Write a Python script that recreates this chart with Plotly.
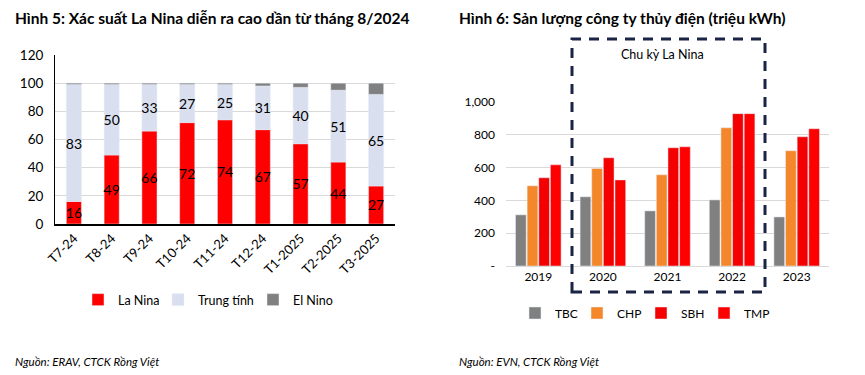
import plotly.graph_objects as go

# ---- Data: Figure 5 ----
months = ["T7-24", "T8-24", "T9-24", "T10-24", "T11-24", "T12-24", "T1-2025", "T2-2025", "T3-2025"]
la_nina = [16, 49, 66, 72, 74, 67, 57, 44, 27]
trung_tinh = [83, 50, 33, 27, 25, 31, 40, 51, 65]
el_nino = [1, 1, 1, 1, 1, 2, 3, 5, 8]
left_ticks = [0, 20, 40, 60, 80, 100, 120]

# ---- Data: Figure 6 ----
years = ["2019", "2020", "2021", "2022", "2023"]
tbc = [312, 422, 336, 403, 299]
chp = [489, 595, 556, 843, 703]
sbh = [538, 660, 721, 929, 788]
tmp = [617, 525, 727, 929, 837]
right_tickvals = [0, 200, 400, 600, 800, 1000]
right_ticktext = ["-", "200", "400", "600", "800", "1,000"]

W, H = 865, 375
def px(x): return x / W
def py(y): return (H - y) / H

F = "Lato"

fig = go.Figure()

left_series = [("La Nina", la_nina, "#FF0000", True),
               ("Trung tính", trung_tinh, "#DADFEF", True),
               ("El Nino", el_nino, "#808080", False)]
left_leg_sq = [98, 178, 273]
for i, (name, vals, col, lab) in enumerate(left_series):
    kw = {}
    if lab:
        kw = dict(text=vals, textposition="inside", insidetextanchor="middle",
                  constraintext="none", textfont=dict(color="black", size=14, family=F))
    fig.add_bar(x=months, y=vals, name=name, marker_color=col, width=0.4,
                xaxis="x", yaxis="y", legend="legend" if i == 0 else f"legend{i+1}",
                hoverinfo="skip", **kw)

right_series = [("TBC", tbc, "#808080"), ("CHP", chp, "#F5872B"),
                ("SBH", sbh, "#F40000"), ("TMP", tmp, "#FF0000")]
right_leg_sq = [535, 597, 661, 724]
for i, (name, vals, col) in enumerate(right_series):
    fig.add_bar(x=years, y=vals, name=name, marker_color=col, offsetgroup=str(i),
                xaxis="x2", yaxis="y2", legend=f"legend{i+4}", hoverinfo="skip")

layout_legends = {}
for i, c in enumerate(left_leg_sq):
    key = "legend" if i == 0 else f"legend{i+1}"
    layout_legends[key] = dict(orientation="h", x=px(c - 20), xanchor="left", y=py(300),
                               yanchor="middle", font=dict(size=12.5, family=F),
                               itemwidth=30, bgcolor="rgba(0,0,0,0)")
for i, c in enumerate(right_leg_sq):
    layout_legends[f"legend{i+4}"] = dict(orientation="h", x=px(c - 20), xanchor="left", y=py(313),
                                          yanchor="middle", font=dict(size=12, family=F),
                                          itemwidth=30, bgcolor="rgba(0,0,0,0)")

fig.update_layout(
    width=W, height=H,
    margin=dict(l=0, r=0, t=0, b=0, pad=0, autoexpand=False),
    paper_bgcolor="white", plot_bgcolor="white",
    barmode="relative",
    showlegend=True,
    font=dict(family=F, color="black"),
    xaxis=dict(domain=[px(55), px(395)], tickangle=-45, showline=True, linecolor="black",
               linewidth=1.5, ticks="", tickfont=dict(size=13, family=F), anchor="y",
               automargin=False),
    yaxis=dict(domain=[py(224), py(55)], range=[0, 120], tickvals=left_ticks,
               showline=True, linecolor="black", linewidth=1, gridcolor="#D9D9D9",
               ticks="", tickfont=dict(size=13.5, family=F), anchor="x", zeroline=False,
               automargin=False, ticklabelstandoff=8),
    xaxis2=dict(domain=[px(506), px(829)], showline=True, linecolor="#D9D9D9", ticks="",
                tickfont=dict(size=12, family=F), anchor="y2", automargin=False),
    yaxis2=dict(domain=[py(266), py(102)], range=[0, 1000], tickvals=right_tickvals,
                ticktext=right_ticktext, showline=False, gridcolor="#D9D9D9", ticks="",
                tickfont=dict(size=12, family=F), anchor="x2", zeroline=False,
                ticklabelstandoff=10, automargin=False),
    bargap=0.28, bargroupgap=0.08,
    **layout_legends,
)

fig.add_shape(type="rect", xref="paper", yref="paper",
              x0=px(572), x1=px(765), y0=py(292), y1=py(39),
              line=dict(color="#1B2445", width=3, dash="10px,8px"), fillcolor="rgba(0,0,0,0)")

annots = [
    dict(text="<b>Hình 5: Xác suất La Nina diễn ra cao dần từ tháng 8/2024</b>", x=px(13), y=py(18),
         size=15.5, xanchor="left"),
    dict(text="<b>Hình 6: Sản lượng công ty thủy điện (triệu kWh)</b>", x=px(457), y=py(18),
         size=15.5, xanchor="left"),
    dict(text="Chu kỳ La Nina", x=px(662), y=py(55), size=12.5, xanchor="center"),
    dict(text="<i>Nguồn: ERAV, CTCK Rồng Việt</i>", x=px(13), y=py(361), size=11.5, xanchor="left"),
    dict(text="<i>Nguồn: EVN, CTCK Rồng Việt</i>", x=px(457), y=py(361), size=11.5, xanchor="left"),
]
for a in annots:
    fig.add_annotation(text=a["text"], x=a["x"], y=a["y"], xref="paper", yref="paper",
                       xanchor=a["xanchor"], yanchor="middle", showarrow=False,
                       font=dict(size=a["size"], family=F, color="black"))

fig.write_html("out.html", config={"displayModeBar": False},
               post_script="document.body.style.margin='0';")
